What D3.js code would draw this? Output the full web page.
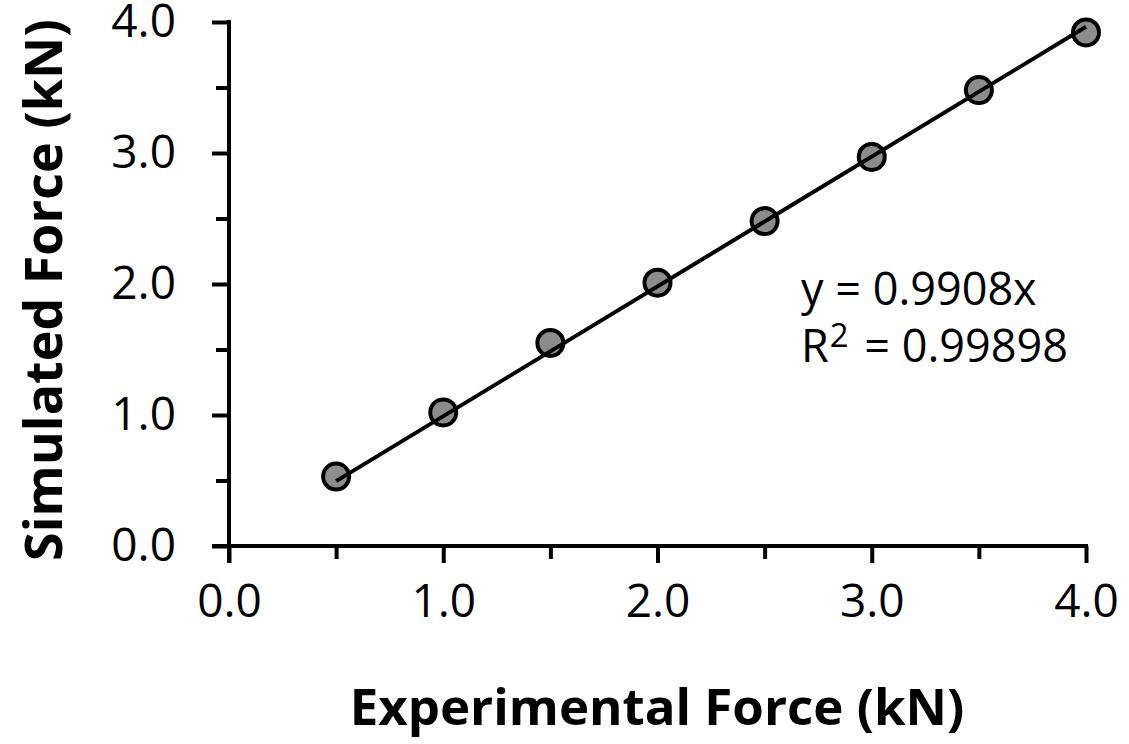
<!DOCTYPE html>
<html>
<head>
<meta charset="utf-8">
<script src="https://cdn.jsdelivr.net/npm/d3@7"></script>
<style>
  html, body { margin: 0; padding: 0; background: #fff; }
  svg { display: block; }
  text { font-family: "Open Sans", "DejaVu Sans", sans-serif; fill: #000; }
</style>
</head>
<body>
<svg id="chart" width="1129" height="744"></svg>
<script>
// Measured vs. simulated force
const experimental = [0.5, 1.0, 1.5, 2.0, 2.5, 3.0, 3.5, 4.0];
const simulated    = [0.53, 1.02, 1.55, 2.01, 2.48, 2.97, 3.48, 3.92];
const slope = 0.9908;
const rSquared = "0.99898";
const majorTicks = [0, 1, 2, 3, 4];
const minorTicks = [0.5, 1.5, 2.5, 3.5];
const xTitle = "Experimental Force (kN)";
const yTitle = "Simulated Force (kN)";

const svg = d3.select("#chart");
const x = d3.scaleLinear().domain([0, 4]).range([229, 1086]);
const y = d3.scaleLinear().domain([0, 4]).range([546, 22]);

const majorLen = 17, minorLen = 13, axisW = 4;
const fmt = d3.format(".1f");

// x axis
const gx = svg.append("g").attr("transform", `translate(0,${y(0)})`);
gx.append("g")
  .call(d3.axisBottom(x).tickValues(majorTicks).tickSize(majorLen).tickPadding(21).tickFormat(fmt))
  .call(g => g.select(".domain").remove())
  .call(g => g.selectAll("line").attr("stroke", "#000").attr("stroke-width", axisW))
  .call(g => g.selectAll("text").attr("font-size", 46).attr("font-family", "Open Sans").attr("fill", "#000"));
gx.append("g")
  .call(d3.axisBottom(x).tickValues(minorTicks).tickSize(minorLen).tickFormat(""))
  .call(g => g.select(".domain").remove())
  .call(g => g.selectAll("line").attr("stroke", "#000").attr("stroke-width", axisW));

// y axis
const gy = svg.append("g").attr("transform", `translate(${x(0)},0)`);
gy.append("g")
  .call(d3.axisLeft(y).tickValues(majorTicks).tickSize(majorLen).tickPadding(36).tickFormat(fmt))
  .call(g => g.select(".domain").remove())
  .call(g => g.selectAll("line").attr("stroke", "#000").attr("stroke-width", axisW))
  .call(g => g.selectAll("text").attr("font-size", 46).attr("font-family", "Open Sans").attr("fill", "#000"));
gy.append("g")
  .call(d3.axisLeft(y).tickValues(minorTicks).tickSize(minorLen).tickFormat(""))
  .call(g => g.select(".domain").remove())
  .call(g => g.selectAll("line").attr("stroke", "#000").attr("stroke-width", axisW));

// axis lines
svg.append("line")
  .attr("x1", x(0) - majorLen).attr("x2", x(4) + axisW / 2)
  .attr("y1", y(0)).attr("y2", y(0))
  .attr("stroke", "#000").attr("stroke-width", axisW);
svg.append("line")
  .attr("x1", x(0)).attr("x2", x(0))
  .attr("y1", y(0) + majorLen).attr("y2", y(4) - axisW / 2)
  .attr("stroke", "#000").attr("stroke-width", axisW);

// data points
const pts = experimental.map((e, i) => ({ e, s: simulated[i] }));
svg.append("g").selectAll("circle")
  .data(pts).join("circle")
  .attr("cx", d => x(d.e)).attr("cy", d => y(d.s))
  .attr("r", 13)
  .attr("fill", "#8c8c8c").attr("stroke", "#000").attr("stroke-width", 4);

// linear trend through the origin
const x0 = d3.min(experimental), x1 = d3.max(experimental);
svg.append("line")
  .attr("x1", x(x0)).attr("y1", y(slope * x0))
  .attr("x2", x(x1)).attr("y2", y(slope * x1))
  .attr("stroke", "#000").attr("stroke-width", 4);

// equation
const eq = svg.append("g").attr("font-size", 45);
eq.append("text").attr("x", 801).attr("y", 305).text(`y = ${slope}x`);
const r2 = eq.append("text").attr("x", 801).attr("y", 362);
r2.append("tspan").text("R");
r2.append("tspan").attr("font-size", 33).attr("dx", 1).attr("dy", -15).text("2");
r2.append("tspan").attr("dx", 4).attr("dy", 15).text(` = ${rSquared}`);

// axis titles
svg.append("text")
  .attr("x", 657).attr("y", 725)
  .attr("text-anchor", "middle")
  .attr("font-size", 51).attr("font-weight", "bold")
  .text(xTitle);
svg.append("text")
  .attr("transform", `translate(62,${(15 + 565) / 2}) rotate(-90)`)
  .attr("text-anchor", "middle")
  .attr("font-size", 52).attr("font-weight", "bold")
  .text(yTitle);
</script>
</body>
</html>
